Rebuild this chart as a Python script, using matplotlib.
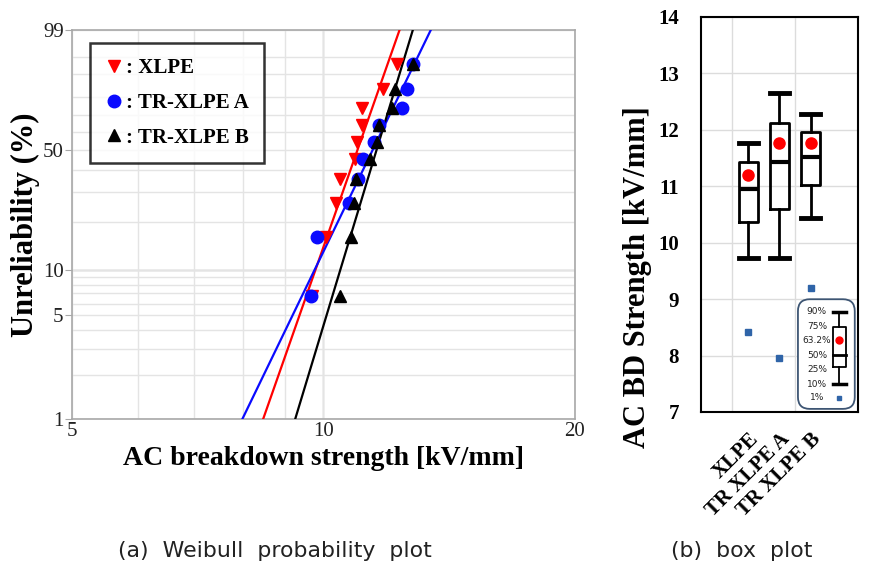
import matplotlib
matplotlib.use('Agg')
import matplotlib.pyplot as plt
from matplotlib.patches import FancyBboxPatch
from matplotlib.ticker import FixedLocator, NullFormatter
import numpy as np

# Weibull data
unrel_pct = [6.7, 16.3, 26.0, 35.6, 45.2, 54.8, 64.4, 74.0, 83.7, 93.3]
xlpe = [9.68, 10.07, 10.35, 10.47, 10.91, 10.98, 11.13, 11.13, 11.79, 12.24]
tr_a = [9.66, 9.83, 10.74, 11.01, 11.16, 11.49, 11.66, 12.40, 12.58, 12.81]
tr_b = [10.47, 10.79, 10.88, 10.94, 11.37, 11.60, 11.66, 12.07, 12.18, 12.79]

# fitted Weibull parameters
shape = [16.3, 11.8, 18.9]
scale = [11.23, 11.81, 11.80]

# box plot stats
names = ['XLPE', 'TR XLPE A', 'TR XLPE B']
p1 = [8.41, 7.95, 9.19]
p10 = [9.73, 9.72, 10.43]
p25 = [10.37, 10.59, 11.01]
p50 = [10.94, 11.42, 11.52]
p632 = [11.19, 11.77, 11.76]
p75 = [11.42, 12.11, 11.96]
p90 = [11.77, 12.64, 12.27]

SERIF = 'Liberation Serif'
CAPTION_FONT = ['DejaVu Sans']


def wb_fwd(f):
    f = np.clip(np.asarray(f, dtype=float), 1e-6, 100 - 1e-6)
    return np.log(-np.log(1 - f / 100.0))


def wb_inv(y):
    return 100.0 * (1 - np.exp(-np.exp(y)))


fig = plt.figure(figsize=(8.79, 5.73), dpi=100)

# ---- (a) Weibull plot
ax = fig.add_axes([0.0819, 0.2688, 0.5722, 0.6789])
ax.set_xscale('log')
ax.set_yscale('function', functions=(wb_fwd, wb_inv))
ax.set_xlim(5, 20)
ax.set_ylim(1, 99)

ax.xaxis.set_major_locator(FixedLocator([5, 10, 20]))
ax.xaxis.set_minor_locator(FixedLocator([6, 7, 8, 9]))
ax.xaxis.set_major_formatter(plt.FuncFormatter(lambda v, p: '%d' % v))
ax.xaxis.set_minor_formatter(NullFormatter())
ax.yaxis.set_major_locator(FixedLocator([1, 5, 10, 50, 99]))
ax.yaxis.set_minor_locator(FixedLocator([2, 3, 4, 6, 7, 8, 9, 20, 30, 40, 60, 70, 80, 90, 95]))
ax.yaxis.set_major_formatter(plt.FuncFormatter(lambda v, p: '%d' % v))
ax.yaxis.set_minor_formatter(NullFormatter())

ax.grid(True, which='both', color='#e4e4e4', lw=1.0)
ax.axhline(10, color='#a8a8a8', lw=1.0, zorder=1)
ax.axvline(10, color='#b8b8b8', lw=1.0, zorder=1)
for s in ax.spines.values():
    s.set_color('#a8a8a8')
    s.set_linewidth(1.2)
ax.tick_params(which='both', length=0)
ax.tick_params(axis='y', which='major', length=5, color='#a8a8a8', pad=1)
ax.tick_params(axis='x', which='major', pad=2)
for lab in ax.get_xticklabels() + ax.get_yticklabels():
    lab.set_fontfamily(SERIF)
    lab.set_fontsize(15)
    lab.set_color('#222222')

colors = ['#ff0000', '#0a0aff', 'black']
markers = ['v', 'o', '^']
labels = [': XLPE', ': TR-XLPE A', ': TR-XLPE B']
f_line = np.array([1.0, 99.0])
for vals, c, m, lab, b, e in zip([xlpe, tr_a, tr_b], colors, markers, labels, shape, scale):
    x_line = e * (-np.log(1 - f_line / 100.0)) ** (1.0 / b)
    ax.plot(x_line, f_line, color=c, lw=1.6, zorder=3)
    ax.plot(vals, unrel_pct, ls='none', marker=m, color=c, ms=9, label=lab, zorder=4)

leg = ax.legend(loc='upper left', bbox_to_anchor=(0.036, 0.967), borderaxespad=0,
                frameon=True, fancybox=False, handletextpad=0.15, handlelength=0.8,
                borderpad=0.75, labelspacing=0.7,
                prop={'family': SERIF, 'weight': 'bold', 'size': 15})
leg.get_frame().set_edgecolor('black')
leg.get_frame().set_linewidth(1.8)

ax.set_xlabel('AC breakdown strength [kV/mm]', fontfamily=SERIF, fontweight='bold',
              fontsize=20, labelpad=4)
ax.set_ylabel('Unreliability (%)', fontfamily=SERIF, fontweight='bold', fontsize=22,
              labelpad=2)

# ---- (b) box plot
ax2 = fig.add_axes([0.7975, 0.281, 0.1786, 0.690])
pos = [1, 2, 3]
stats = []
for i, n in enumerate(names):
    stats.append(dict(label=n, whislo=p10[i], q1=p25[i], med=p50[i],
                      q3=p75[i], whishi=p90[i], fliers=[]))
ax2.bxp(stats, positions=pos, widths=0.6, showfliers=False, showcaps=True,
        boxprops=dict(color='black', lw=2),
        medianprops=dict(color='black', lw=3),
        whiskerprops=dict(color='black', lw=2),
        capprops=dict(color='black', lw=3.5),
        capwidths=0.6)
ax2.plot(pos, p632, ls='none', marker='o', color='#ff0000', ms=8, zorder=5)
ax2.plot(pos, p1, ls='none', marker='s', color='#2f64a8', ms=5, zorder=5)

ax2.set_xlim(-0.5, 4.5)
ax2.set_ylim(7, 14)
ax2.set_yticks(range(7, 15))
ax2.set_xticks(pos)
ax2.set_xticklabels(names, rotation=45, ha='right', rotation_mode='anchor')
ax2.xaxis.set_minor_locator(FixedLocator([0.5, 2.5]))
ax2.grid(True, axis='y', color='#dcdcdc', lw=1.0)
ax2.grid(True, axis='x', which='minor', color='#dcdcdc', lw=1.0)
ax2.set_axisbelow(True)
ax2.tick_params(which='both', length=0)
ax2.tick_params(axis='y', pad=16)
ax2.tick_params(axis='x', pad=12)
for lab in ax2.get_xticklabels() + ax2.get_yticklabels():
    lab.set_fontfamily(SERIF)
    lab.set_fontweight('bold')
    lab.set_fontsize(15)
for s in ax2.spines.values():
    s.set_linewidth(1.5)
ax2.set_ylabel('AC BD Strength [kV/mm]', fontfamily=SERIF, fontweight='bold',
               fontsize=22)
ax2.yaxis.set_label_coords(-0.31, 0.34)

# key inset
ins = ax2.inset_axes([0.61, 0.005, 0.377, 0.283])
ins.set_xlim(0, 1)
ins.set_ylim(0, 1)
ins.axis('off')
ins.add_patch(FancyBboxPatch((0.02, 0.01), 0.96, 0.98,
                             boxstyle='round,pad=0,rounding_size=0.2',
                             mutation_aspect=0.53, fc='white', ec='#3d5573', lw=1.3))
key_labels = ['90%', '75%', '63.2%', '50%', '25%', '10%', '1%']
key_y = [0.878, 0.744, 0.622, 0.491, 0.363, 0.232, 0.11]
for t, yy in zip(key_labels, key_y):
    ins.text(0.34, yy, t, ha='center', va='center', fontsize=6.5, color='#222222',
             family='DejaVu Sans')
kx = 0.72
hw = 0.11
ins.plot([kx - hw, kx + hw], [0.878, 0.878], color='black', lw=2.5)
ins.plot([kx - hw, kx + hw], [0.232, 0.232], color='black', lw=2.5)
ins.plot([kx, kx], [0.744, 0.878], color='black', lw=1.3)
ins.plot([kx, kx], [0.232, 0.381], color='black', lw=1.3)
ins.plot([kx - hw, kx + hw, kx + hw, kx - hw, kx - hw],
         [0.381, 0.381, 0.744, 0.744, 0.381], color='black', lw=1.3)
ins.plot([kx - hw, kx + hw], [0.491, 0.491], color='black', lw=2)
ins.plot([kx], [0.622], marker='o', color='#ff0000', ms=5)
ins.plot([kx], [0.11], marker='s', color='#2f64a8', ms=3)

# captions
fig.text(0.313, 0.038, '(a)  Weibull  probability  plot', ha='center', va='center',
         fontsize=15.8, family=CAPTION_FONT, color='#222222')
fig.text(0.844, 0.038, '(b)  box  plot', ha='center', va='center',
         fontsize=15.8, family=CAPTION_FONT, color='#222222')

fig.savefig('out.png', dpi=100)
